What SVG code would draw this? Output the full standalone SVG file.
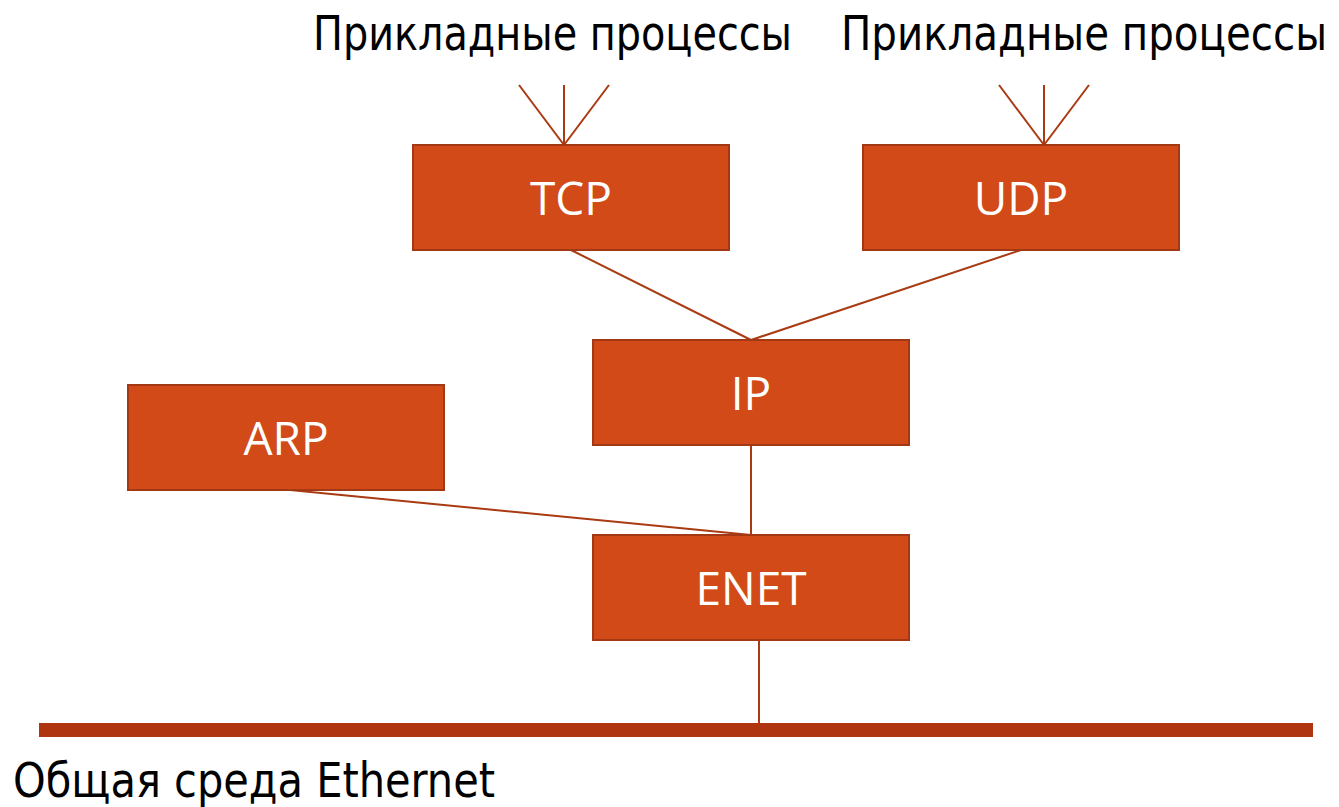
<svg xmlns="http://www.w3.org/2000/svg" width="1339" height="807" viewBox="0 0 1339 807">
  <style>
    .box { fill: #D14A18; stroke: #A33914; stroke-width: 2; }
    .lbl { font-family: "Open Sans", "Liberation Sans", sans-serif; font-size: 46px; fill: #FFFFFF; text-anchor: middle; }
    .cap { font-family: "DejaVu Sans Condensed", "DejaVu Sans", "Liberation Sans", sans-serif; font-size: 48px; fill: #000000; }
    .wire { stroke: #A93A12; stroke-width: 2; fill: none; }
  </style>
  <rect width="1339" height="807" fill="#FFFFFF"/>

  <!-- captions -->
  <text class="cap" x="313" y="50" textLength="479" lengthAdjust="spacingAndGlyphs">Прикладные процессы</text>
  <text class="cap" x="1327" y="50" text-anchor="end" textLength="486" lengthAdjust="spacingAndGlyphs">Прикладные процессы</text>
  <text class="cap" x="13" y="797" font-size="47" textLength="482" lengthAdjust="spacingAndGlyphs">Общая среда Ethernet</text>

  <!-- connectors -->
  <g id="connectors" class="wire">
    <line x1="519" y1="85" x2="564" y2="145"/>
    <line x1="564" y1="85" x2="564" y2="145"/>
    <line x1="609" y1="85" x2="564" y2="145"/>
    <line x1="999" y1="85" x2="1044" y2="145"/>
    <line x1="1044" y1="85" x2="1044" y2="145"/>
    <line x1="1089" y1="85" x2="1044" y2="145"/>
    <line x1="571" y1="250" x2="751" y2="340"/>
    <line x1="1021" y1="250" x2="751" y2="340"/>
    <line x1="290" y1="490" x2="751" y2="535"/>
    <line x1="751" y1="446" x2="751" y2="535"/>
    <line x1="759" y1="641" x2="759" y2="723"/>
  </g>

  <!-- shared medium bus -->
  <g id="bus">
    <rect x="39" y="723" width="1274" height="14" fill="#AE3510"/>
  </g>

  <g id="tcp">
    <rect class="box" x="413" y="145" width="316" height="105"/>
    <text class="lbl" x="571" y="215">TCP</text>
  </g>
  <g id="udp">
    <rect class="box" x="863" y="145" width="316" height="105"/>
    <text class="lbl" x="1021" y="215">UDP</text>
  </g>
  <g id="arp">
    <rect class="box" x="128" y="385" width="316" height="105"/>
    <text class="lbl" x="286" y="455">ARP</text>
  </g>
  <g id="ip">
    <rect class="box" x="593" y="340" width="316" height="105"/>
    <text class="lbl" x="751" y="410">IP</text>
  </g>
  <g id="enet">
    <rect class="box" x="593" y="535" width="316" height="105"/>
    <text class="lbl" x="751" y="605">ENET</text>
  </g>
</svg>
